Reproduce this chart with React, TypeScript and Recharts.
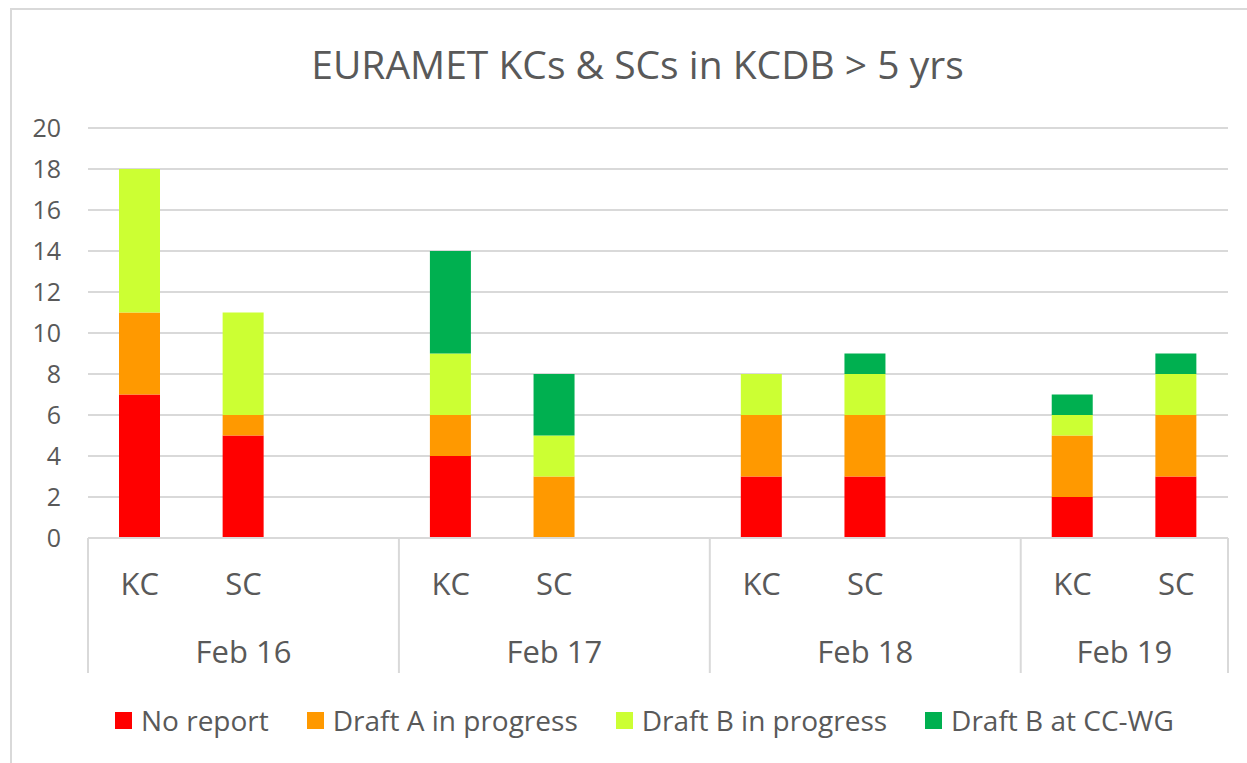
import { Bar, BarChart, CartesianGrid, XAxis, YAxis } from "recharts"

const slots = ["KC", "SC", "", "KC", "SC", "", "KC", "SC", "", "KC", "SC"]
const groups = ["Feb 16", "Feb 16", "Feb 16", "Feb 17", "Feb 17", "Feb 17", "Feb 18", "Feb 18", "Feb 18", "Feb 19", "Feb 19"]

const noReport = [7, 5, 0, 4, 0, 0, 3, 3, 0, 2, 3]
const draftA = [4, 1, 0, 2, 3, 0, 3, 3, 0, 3, 3]
const draftB = [7, 5, 0, 3, 2, 0, 2, 2, 0, 1, 2]
const atCCWG = [0, 0, 0, 5, 3, 0, 0, 1, 0, 1, 1]

const yTicks = [0, 2, 4, 6, 8, 10, 12, 14, 16, 18, 20]

const series = [
  { key: "noReport", name: "No report", color: "#FF0000" },
  { key: "draftA", name: "Draft A in progress", color: "#FF9900" },
  { key: "draftB", name: "Draft B in progress", color: "#CCFF33" },
  { key: "atCCWG", name: "Draft B at CC-WG", color: "#00B050" },
]

const data = slots.map((s, i) => ({
  slot: s,
  group: groups[i],
  noReport: noReport[i],
  draftA: draftA[i],
  draftB: draftB[i],
  atCCWG: atCCWG[i],
}))

const W = 1247
const H = 763
const PLOT_LEFT = 88
const PLOT_RIGHT = 1228
const PLOT_TOP = 128
const PLOT_BOTTOM = 538
const band = (PLOT_RIGHT - PLOT_LEFT) / data.length

const textColor = "#595959"
const lineColor = "#D9D9D9"
const font = "'Open Sans', sans-serif"

function CategoryTick(props: any) {
  const { x, payload } = props
  const i = payload.index
  const g = groups[i]
  const first = i === 0 || groups[i - 1] !== g
  const last = i === groups.length - 1
  const count = groups.filter((v) => v === g).length
  return (
    <g>
      <text x={x} y={PLOT_BOTTOM + 57} textAnchor="middle" fill={textColor} fontSize={31} fontFamily={font}>
        {slots[i]}
      </text>
      {first && (
        <>
          <line x1={x - band / 2} x2={x - band / 2} y1={PLOT_BOTTOM} y2={673} stroke={lineColor} strokeWidth={2} />
          <text x={x - band / 2 + (count * band) / 2} y={PLOT_BOTTOM + 125} textAnchor="middle" fill={textColor} fontSize={31} fontFamily={font}>
            {g}
          </text>
        </>
      )}
      {last && <line x1={x + band / 2} x2={x + band / 2} y1={PLOT_BOTTOM} y2={673} stroke={lineColor} strokeWidth={2} />}
    </g>
  )
}

export default function App() {
  return (
    <div style={{ position: "absolute", left: 0, top: 0, width: W, height: H, overflow: "hidden", background: "#fff", fontFamily: font }}>
      <div style={{ position: "absolute", left: 10, top: 8, width: W, height: H, borderLeft: `2px solid ${lineColor}`, borderTop: `2px solid ${lineColor}` }} />
      <div style={{ position: "absolute", left: 0, top: 37, width: 1275, textAlign: "center", fontSize: 39, color: textColor, lineHeight: "54px" }}>
        EURAMET KCs &amp; SCs in KCDB &gt; 5 yrs
      </div>
      <BarChart
        width={W}
        height={H}
        data={data}
        margin={{ top: PLOT_TOP, right: W - PLOT_RIGHT, left: 10, bottom: 0 }}
        style={{ position: "absolute", left: 0, top: 0 }}
      >
        <CartesianGrid vertical={false} stroke={lineColor} strokeWidth={2} />
        <YAxis
          width={PLOT_LEFT - 10}
          domain={[0, 20]}
          ticks={yTicks}
          axisLine={false}
          tickLine={false}
          tickSize={0}
          tickMargin={27}
          interval={0}
          tick={{ fill: textColor, fontSize: 25, fontFamily: font }}
        />
        <XAxis
          dataKey="slot"
          height={H - PLOT_BOTTOM}
          interval={0}
          tickLine={false}
          axisLine={{ stroke: lineColor, strokeWidth: 2 }}
          tick={<CategoryTick />}
        />
        {series.map((s) => (
          <Bar key={s.key} dataKey={s.key} name={s.name} stackId="a" fill={s.color} barSize={41} isAnimationActive={false} />
        ))}
      </BarChart>
      <div style={{ position: "absolute", left: 115, top: 700, display: "flex", alignItems: "center", fontSize: 28, color: textColor, lineHeight: "40px" }}>
        {series.map((s) => (
          <div key={s.key} style={{ display: "flex", alignItems: "center", marginRight: 38 }}>
            <span style={{ display: "inline-block", width: 17, height: 17, background: s.color, marginRight: 9 }} />
            <span>{s.name}</span>
          </div>
        ))}
      </div>
    </div>
  )
}
